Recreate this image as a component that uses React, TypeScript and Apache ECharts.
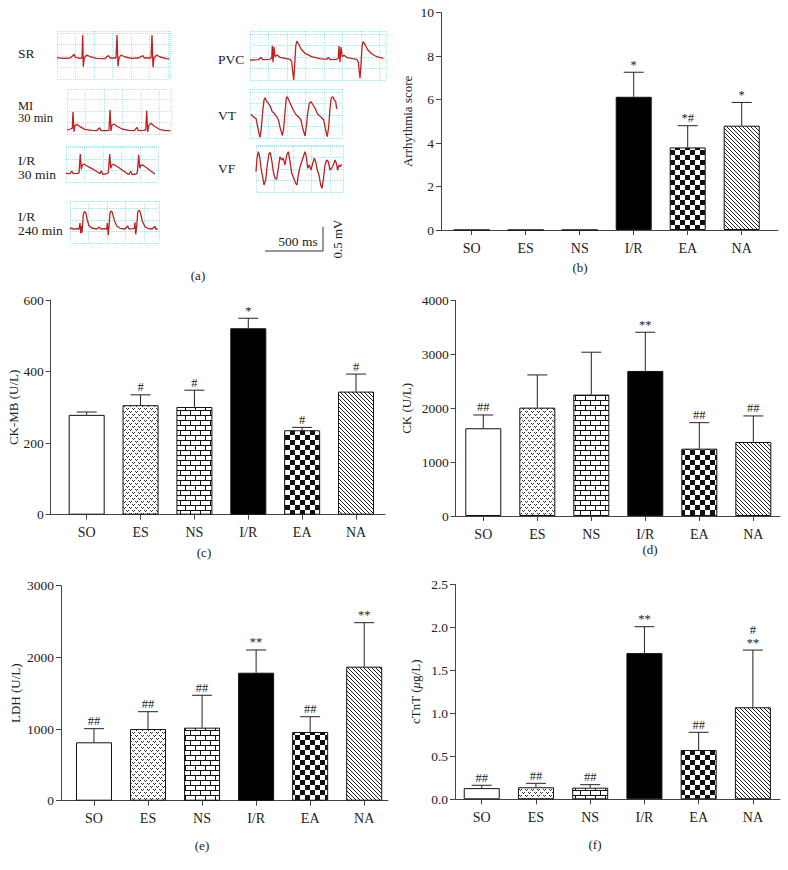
import React, { useEffect, useRef } from 'react';
import * as echarts from 'echarts';

const categories = ['SO', 'ES', 'NS', 'I/R', 'EA', 'NA'];

// (b) Arrhythmia score
const arrhythmiaMean = [0, 0, 0, 6.13, 3.8, 4.8];
const arrhythmiaUpper = [0, 0, 0, 7.26, 4.8, 5.87];
const arrhythmiaMarks = ['', '', '', '*', '*#', '*'];

// (c) CK-MB (U/L)
const ckmbMean = [279, 306, 301, 521, 236, 344];
const ckmbUpper = [287, 335, 348, 549, 244, 393];
const ckmbMarks = ['', '#', '#', '*', '#', '#'];

// (d) CK (U/L)
const ckMean = [1630, 2013, 2255, 2695, 1251, 1375];
const ckUpper = [1877, 2621, 3043, 3414, 1734, 1859];
const ckMarks = ['##', '', '', '**', '##', '##'];

// (e) LDH (U/L)
const ldhMean = [815, 1000, 1019, 1786, 959, 1870];
const ldhUpper = [1005, 1242, 1471, 2103, 1172, 2484];
const ldhMarks = ['##', '##', '##', '**', '##', '**'];

// (f) cTnT (ug/L)
const ctntMean = [0.13, 0.14, 0.135, 1.7, 0.573, 1.07];
const ctntUpper = [0.163, 0.186, 0.17, 2.007, 0.779, 1.735];
const ctntMarks = ['##', '##', '##', '**', '##', '#\n**'];

// (a) ECG traces: [time, amplitude] (arbitrary units)
const srTrace = [[0,21.3],[6,20.7],[13,21],[15.7,23.3],[17,24.7],[18.3,21.7],[23,20.7],[25,21],[25.7,44],[26.3,12.3],[27.3,21],[29.7,24],[33,22.3],[39.7,20.7],[48,20.3],[50.3,22.7],[51.7,23.3],[53,21],[59,21],[60,44],[61,12.7],[62,21],[64,24],[68,22],[74.7,20.7],[81.3,21],[84.7,22.7],[86,23.3],[87.3,21],[94,21],[95,44],[96,11.7],[97,21],[99.7,24],[103,22],[109.7,20.3],[112.3,20]];
const miTrace = [[0,4],[3.3,5],[5.3,5.7],[6,22.3],[7,2.3],[8,8.3],[9.7,9.7],[13,7.3],[18,4.7],[24.7,3.7],[29.7,3.3],[32.7,6.3],[34,3.3],[40,3.3],[42,3.7],[43,24],[44,3],[45,9],[46.7,10],[50,7.7],[55,5],[61.7,3.7],[67.3,3.3],[70,6.7],[71.3,3.3],[76.7,3.7],[78.7,4],[79.7,23.3],[80.7,2],[82,9],[84,10.7],[87.3,7.7],[92.3,4.7],[98.3,3.3],[103.3,3.3]];
const ir30Trace = [[0,8.7],[4,8.3],[5.7,11],[7.3,8.3],[11.3,8.7],[13,9],[14.3,28],[15.3,12.7],[16.3,17],[18,18],[22.3,15.3],[27.3,12.7],[31.3,10],[34,8.3],[35.3,11.3],[36.7,7.7],[40.7,8.3],[42.3,9.3],[43.7,28],[44.7,13.7],[45.7,17],[47.3,17.7],[52.3,14.7],[57.3,11.3],[60.7,8.7],[63,7.7],[64.7,10.7],[66.3,7.3],[70,8],[71.3,9.3],[72.7,27.3],[73.7,13.7],[74.7,16.7],[76.7,17],[81.3,13.7],[85.7,10.3],[89,8]];
const ir240Trace = [[0,13.7],[1.7,15.3],[3.3,13.7],[6.7,14.3],[9,14],[10,20],[10.7,9.7],[11.3,17],[12,10.3],[13.3,28],[14.3,31.3],[15.7,30.7],[17.3,23],[19,17.3],[21.7,15],[26.7,14],[29.3,16],[30.7,14],[35,14.3],[36.7,13.7],[37.3,20],[38.3,8],[39,17],[40,29.7],[41,32],[42.3,30.7],[44.3,22.7],[46.7,17],[50,14.7],[55,14],[57.7,17],[59,14],[62.7,14.3],[64.3,14.7],[65,20.7],[65.7,8.7],[66.7,16.3],[67.7,30.7],[69,33],[70.3,30.7],[72.3,22],[75,16.3],[78.3,14.3],[82.3,14],[85,16.7],[86,13.7],[87.7,14]];
const pvcTrace = [[0,20],[8.3,20.3],[11,22.7],[12.7,20.3],[20,20.7],[21.7,21.7],[22.3,34.3],[23,17.7],[24,33.3],[25,23.3],[27,25],[30,22.7],[35,21.7],[40,20.7],[41.7,18.3],[42.7,8.3],[43.7,0],[44.7,15],[45.7,33.3],[46.7,39],[48.3,36.7],[51,31],[55,26.7],[61.7,23.3],[70,21.3],[76.7,20.7],[78.3,22.7],[80,20.3],[86.7,20.7],[88.3,21.7],[89,34.3],[90,17.7],[91,33],[92.3,23.3],[94,24.7],[97.3,22.3],[102.3,21.3],[106.7,20.7],[108.3,17.7],[109.3,8.3],[110,1.7],[111,15.7],[112,33.3],[113,38.3],[114.7,36],[117.7,30.3],[121.7,26.3],[126.7,23.3],[133.3,21.7]];
const vtTrace = [[1,23.7],[2.3,22.3],[4.3,20.3],[6,19.7],[7.3,13],[9,4.7],[10,0.7],[11.3,9.7],[12.7,26.3],[14,38],[15,40.3],[16.3,37],[18.3,34.7],[20,32.3],[22.3,26.3],[24.3,24.7],[26.7,21.3],[28.3,18.3],[30.3,9.7],[32.3,2.3],[33.7,9.7],[35,26.3],[36.3,39.7],[37.3,41.3],[38.7,38],[41,33],[43.3,28],[45.7,23.7],[48.3,21.3],[51,18],[52.7,9.7],[55,2],[56.3,11.3],[57.7,24.7],[59.3,34.7],[61,36.3],[62.7,33.7],[65,29.7],[67.7,23.7],[71,21],[73.7,18],[75.3,9.7],[77.3,1.3],[78.7,11.3],[80,29.7],[81.3,40.3],[83,41.3],[84.3,38],[85.7,36.3],[86.7,29]];
const vfTrace = [[0,20.3],[1,33.7],[2.3,40.3],[3.7,35.3],[5,23.7],[6.3,17],[8,7],[9.7,12],[11.3,27],[13,38.7],[14.3,39.3],[15.7,32],[17.3,20.3],[19,13.7],[20.7,12.7],[22.3,23.7],[24,35.3],[25.7,32],[27.3,33.7],[29,27],[30.7,37],[32.3,40.3],[34,30.3],[35.7,18.7],[37.7,13.7],[39.7,8.7],[41,7],[42.3,17],[44,25.3],[45.7,30.3],[47.3,35.3],[49,40.3],[50.3,35.3],[51.7,23.7],[53.3,27],[55,22],[56.7,28.7],[58.3,33.7],[59.7,30.3],[61.3,22],[63,17],[64.7,7],[66,3.7],[67.3,12],[69,27],[70.7,32],[72.3,30.3],[74,22],[75.7,23.7],[77.3,27],[79,32],[80.3,28.7],[81.7,22],[83,27],[84.3,25.3],[85.7,27.7]];

const FONT = 'Liberation Serif, Times New Roman, serif';
const AXIS = '#444';
const TXT = '#222';

function makeTile(w: number, h: number, draw: (ctx: CanvasRenderingContext2D) => void) {
  const c = document.createElement('canvas');
  c.width = w;
  c.height = h;
  const ctx = c.getContext('2d') as CanvasRenderingContext2D;
  ctx.fillStyle = '#ffffff';
  ctx.fillRect(0, 0, w, h);
  ctx.fillStyle = '#111111';
  draw(ctx);
  return { image: c, repeat: 'repeat', imageWidth: w, imageHeight: h } as any;
}

function makeFills() {
  const es = makeTile(6, 6, (ctx) => {
    ctx.fillStyle = '#333';
    ctx.fillRect(0, 0, 1, 1); ctx.fillRect(1, 1, 1, 1); ctx.fillRect(2, 0, 1, 1);
    ctx.fillRect(3, 3, 1, 1); ctx.fillRect(4, 4, 1, 1); ctx.fillRect(5, 3, 1, 1);
  });
  const ns = makeTile(10, 10, (ctx) => {
    ctx.fillRect(0, 0, 10, 1); ctx.fillRect(0, 5, 10, 1);
    ctx.fillRect(0, 0, 1, 5); ctx.fillRect(5, 5, 1, 5);
  });
  const ea = makeTile(10, 10, (ctx) => {
    ctx.fillRect(0, 0, 5, 5); ctx.fillRect(5, 5, 5, 5);
  });
  const na = makeTile(4, 4, (ctx) => {
    ctx.fillStyle = '#222';
    ctx.fillRect(0, 0, 1, 1); ctx.fillRect(1, 1, 1, 1); ctx.fillRect(2, 2, 1, 1); ctx.fillRect(3, 3, 1, 1);
  });
  return ['#ffffff', es, ns, '#000000', ea, na];
}

type Panel = {
  left: number; top: number; width: number; height: number;
  xmin: number; xmax: number;
  ymax: number; interval: number; decimals: number;
  mean: number[]; upper: number[]; marks: string[];
  name: string; nameGap: number; rich?: any;
};

export default function App() {
  const ref = useRef<HTMLDivElement>(null);

  useEffect(() => {
    if (!ref.current) return;
    const chart = echarts.init(ref.current, undefined, { renderer: 'svg' });
    const fills = makeFills();

    const panels: Panel[] = [
      { left: 441, top: 12.7, width: 337, height: 217.3, xmin: -0.569, xmax: 5.672, ymax: 10, interval: 2, decimals: 0,
        mean: arrhythmiaMean, upper: arrhythmiaUpper, marks: arrhythmiaMarks, name: 'Arrhythmia score', nameGap: 27 },
      { left: 50.7, top: 300, width: 334.3, height: 214.7, xmin: -0.668, xmax: 5.538, ymax: 600, interval: 200, decimals: 0,
        mean: ckmbMean, upper: ckmbUpper, marks: ckmbMarks, name: 'CK-MB (U/L)', nameGap: 29 },
      { left: 455.7, top: 300.7, width: 324.3, height: 215.3, xmin: -0.511, xmax: 5.494, ymax: 4000, interval: 1000, decimals: 0,
        mean: ckMean, upper: ckUpper, marks: ckMarks, name: 'CK (U/L)', nameGap: 43 },
      { left: 61, top: 585.7, width: 327, height: 215, xmin: -0.61, xmax: 5.44, ymax: 3000, interval: 1000, decimals: 0,
        mean: ldhMean, upper: ldhUpper, marks: ldhMarks, name: 'LDH (U/L)', nameGap: 39 },
      { left: 455, top: 584.3, width: 325, height: 215, xmin: -0.493, xmax: 5.5, ymax: 2.5, interval: 0.5, decimals: 1,
        mean: ctntMean, upper: ctntUpper, marks: ctntMarks, name: '{n|cTnT (}{i|μ}{n|g/L)}', nameGap: 33,
        rich: { n: { fontFamily: FONT, fontSize: 13, color: TXT }, i: { fontFamily: FONT, fontSize: 13, fontStyle: 'italic', color: TXT } } },
    ];

    const traces = [
      { data: srTrace, left: 57, top: 31, w: 113, h: 48 },
      { data: miTrace, left: 67, top: 89, w: 104, h: 45 },
      { data: ir30Trace, left: 66, top: 146, w: 92, h: 36 },
      { data: ir240Trace, left: 70, top: 201, w: 89, h: 42 },
      { data: pvcTrace, left: 250, top: 31, w: 136, h: 49 },
      { data: vtTrace, left: 250, top: 89, w: 92, h: 49 },
      { data: vfTrace, left: 256, top: 145, w: 87, h: 47 },
    ];

    const grid: any[] = [];
    const xAxis: any[] = [];
    const yAxis: any[] = [];
    const series: any[] = [];
    const ticks = [0, 1, 2, 3, 4, 5];

    panels.forEach((p, k) => {
      grid.push({ left: p.left, top: p.top, width: p.width, height: p.height, outerBoundsMode: 'none', containLabel: false });
      xAxis.push({
        gridIndex: k, type: 'value', min: p.xmin, max: p.xmax,
        axisLine: { show: true, onZero: false, lineStyle: { color: AXIS, width: 1 } },
        axisTick: { show: true, length: 5, customValues: ticks, lineStyle: { color: AXIS } },
        axisLabel: {
          show: true, customValues: ticks, margin: 11, color: TXT, fontSize: 14, fontFamily: FONT,
          formatter: (v: number) => { const r = Math.round(v); return Math.abs(v - r) < 1e-6 && categories[r] ? categories[r] : ''; },
        },
        splitLine: { show: false },
      });
      yAxis.push({
        gridIndex: k, type: 'value', min: 0, max: p.ymax, interval: p.interval,
        axisLine: { show: true, onZero: false, lineStyle: { color: AXIS, width: 1 } },
        axisTick: { show: true, length: 5, lineStyle: { color: AXIS } },
        axisLabel: { color: TXT, fontSize: 13.5, fontFamily: FONT, margin: 7, formatter: (v: number) => v.toFixed(p.decimals) },
        splitLine: { show: false },
        name: p.name, nameLocation: 'middle', nameGap: p.nameGap,
        nameTextStyle: { color: TXT, fontSize: 13, fontFamily: FONT, rich: p.rich },
      });
      series.push({
        type: 'bar', xAxisIndex: k, yAxisIndex: k, barWidth: 36, silent: true,
        data: p.mean.map((v, i) => ({
          value: [i, v],
          itemStyle: { color: fills[i], borderColor: '#111', borderWidth: 1 },
        })),
      });
      const marks = p.marks;
      series.push({
        type: 'custom', xAxisIndex: k, yAxisIndex: k, clip: false, silent: true, z: 5,
        data: p.mean.map((v, i) => [i, v, p.upper[i]]),
        renderItem: (params: any, api: any) => {
          const i = api.value(0);
          const m = api.value(1);
          const u = api.value(2);
          const p0 = api.coord([i, m]);
          const p1 = api.coord([i, u]);
          const children: any[] = [];
          if (u > m) {
            children.push({ type: 'line', shape: { x1: p0[0], y1: p0[1], x2: p1[0], y2: p1[1] }, style: { stroke: '#222', lineWidth: 1 } });
            children.push({ type: 'line', shape: { x1: p1[0] - 10, y1: p1[1], x2: p1[0] + 10, y2: p1[1] }, style: { stroke: '#222', lineWidth: 1 } });
          }
          const mk = marks[params.dataIndex];
          if (mk) {
            children.push({
              type: 'text', x: p1[0], y: p1[1] - 1,
              style: { text: mk, align: 'center', verticalAlign: 'bottom', fontSize: 12.5, fontFamily: FONT, fill: TXT, lineHeight: 13 },
            });
          }
          return { type: 'group', children };
        },
      });
    });

    const base = panels.length;
    traces.forEach((t, j) => {
      const k = base + j;
      const gl = { color: '#a6eaf1', type: 'dotted', width: 1 };
      grid.push({ left: t.left, top: t.top, width: t.w, height: t.h, outerBoundsMode: 'none', containLabel: false });
      xAxis.push({ gridIndex: k, type: 'value', min: 0, max: t.w, interval: 18.5,
        axisLine: { show: false, onZero: false }, axisTick: { show: false }, axisLabel: { show: false },
        splitLine: { show: true, lineStyle: gl } });
      yAxis.push({ gridIndex: k, type: 'value', min: 0, max: t.h, interval: 11.5,
        axisLine: { show: false, onZero: false }, axisTick: { show: false }, axisLabel: { show: false },
        splitLine: { show: true, lineStyle: gl } });
      series.push({ type: 'line', xAxisIndex: k, yAxisIndex: k, data: t.data, symbol: 'none', showSymbol: false,
        clip: false, silent: true, lineStyle: { color: '#c41e1e', width: 1.3 } });
    });

    const txt = (text: string, x: number, y: number, align = 'left', size = 13, rotation = 0) => ({
      type: 'text', x, y, rotation, silent: true,
      style: { text, align, verticalAlign: 'middle', fontSize: size, fontFamily: FONT, fill: TXT },
    });

    const graphic: any[] = [
      txt('SR', 18, 53, 'left', 13.5), txt('MI', 18, 105.5, 'left', 12.5), txt('30 min', 18, 118, 'left', 12.5),
      txt('I/R', 18, 160, 'left', 13.5), txt('30 min', 18, 174, 'left', 13.5),
      txt('I/R', 18, 216, 'left', 13.5), txt('240 min', 18, 230, 'left', 13.5),
      txt('PVC', 218, 59, 'left', 13.5), txt('VT', 218, 115, 'left', 13.5), txt('VF', 218, 168, 'left', 13.5),
      { type: 'line', silent: true, shape: { x1: 265, y1: 251, x2: 323, y2: 251 }, style: { stroke: '#333', lineWidth: 1 } },
      { type: 'line', silent: true, shape: { x1: 323, y1: 227, x2: 323, y2: 251 }, style: { stroke: '#333', lineWidth: 1 } },
      txt('500 ms', 298, 241, 'center', 13.5),
      txt('0.5 mV', 337, 239, 'center', 13, Math.PI / 2),
      txt('(a)', 198, 275, 'center', 13), txt('(b)', 580, 267, 'center', 13),
      txt('(c)', 204, 552, 'center', 13), txt('(d)', 650, 549, 'center', 13),
      txt('(e)', 202, 845, 'center', 13), txt('(f)', 595, 844, 'center', 13),
    ];

    chart.setOption({
      animation: false,
      backgroundColor: '#ffffff',
      textStyle: { fontFamily: FONT },
      grid, xAxis, yAxis, series, graphic,
    });

    return () => chart.dispose();
  }, []);

  return <div ref={ref} style={{ position: 'absolute', left: 0, top: 0, width: 788, height: 870 }} />;
}
